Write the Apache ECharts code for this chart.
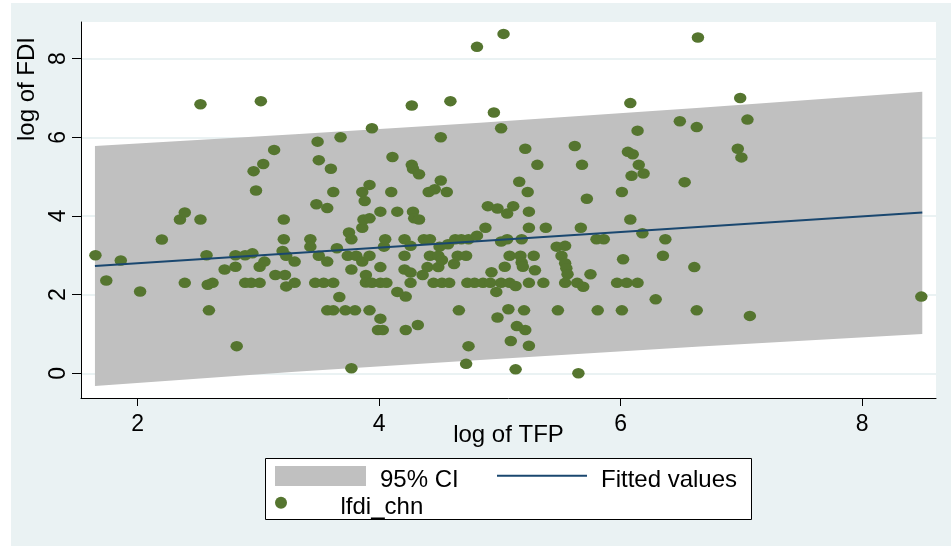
<!DOCTYPE html>
<html>
<head>
<meta charset="utf-8">
<script src="https://cdn.jsdelivr.net/npm/echarts@6/dist/echarts.min.js"></script>
<style>
html,body{margin:0;padding:0;background:#fff;}
#wrap{position:relative;width:951px;height:546px;background:#fff;overflow:hidden;}
#bg{position:absolute;left:11px;top:3px;right:0;bottom:0;background:#EAF2F3;}
#chart{position:absolute;left:0;top:0;width:951px;height:546px;}
</style>
</head>
<body>
<div id="wrap"><div id="bg"></div><div id="chart"></div></div>
<script>
// log of TFP (x) for each observation
const tfp = [
1.65,1.74,1.86,2.02,2.20,2.35,2.39,2.39,2.52,2.52,
2.57,2.58,2.62,2.59,2.72,2.81,2.81,2.82,2.89,2.89,
2.94,2.95,2.96,2.98,3.01,3.01,3.02,3.04,3.05,3.13,
3.14,3.20,3.21,3.21,3.22,3.23,3.23,3.30,3.30,3.43,
3.43,3.47,3.48,3.49,3.50,3.50,3.54,3.57,3.57,3.57,
3.60,3.62,3.62,3.62,3.65,3.67,3.68,3.72,3.74,3.75,
3.77,3.77,3.77,3.80,3.81,3.86,3.86,3.86,3.87,3.88,
3.89,3.89,3.92,3.92,3.92,3.92,3.94,3.94,4.01,4.01,
4.01,4.01,3.99,4.03,4.04,4.05,4.06,4.10,4.11,4.15,
4.15,4.21,4.21,4.21,4.22,4.22,4.26,4.26,4.26,4.27,
4.27,4.28,4.28,4.29,4.33,4.33,4.32,4.36,4.37,4.40,
4.41,4.42,4.42,4.45,4.46,4.49,4.49,4.50,4.51,4.51,
4.52,4.52,4.56,4.57,4.58,4.59,4.62,4.63,4.65,4.66,
4.68,4.72,4.72,4.73,4.74,4.74,4.79,4.81,4.81,4.86,
4.88,4.90,4.92,4.93,4.95,4.97,4.98,4.98,5.01,5.01,
5.01,5.03,5.04,5.06,5.06,5.07,5.08,5.08,5.09,5.11,
5.13,5.13,5.14,5.16,5.17,5.18,5.18,5.19,5.20,5.21,
5.21,5.23,5.24,5.24,5.24,5.24,5.28,5.29,5.31,5.36,
5.38,5.47,5.48,5.51,5.54,5.54,5.55,5.56,5.54,5.62,
5.64,5.65,5.67,5.68,5.69,5.72,5.75,5.80,5.81,5.86,
5.97,6.01,6.01,6.02,6.05,6.06,6.08,6.08,6.09,6.10,
6.14,6.14,6.15,6.18,6.19,6.29,6.35,6.37,6.49,6.53,
6.61,6.63,6.63,6.64,6.97,6.99,7.00,7.05,7.07,8.49
];
// log of FDI (lfdi_chn) for each observation
const fdi = [
3.00,2.36,2.87,2.08,3.40,3.91,4.09,2.30,6.84,3.91,
3.00,2.25,2.30,1.60,2.64,3.00,2.71,0.69,3.00,2.30,
2.30,3.05,5.14,4.65,2.71,2.30,6.92,5.32,2.84,5.68,
2.50,3.11,3.91,3.41,2.50,2.99,2.21,2.84,2.30,3.41,
3.22,2.30,4.30,5.89,5.42,2.99,2.30,2.84,1.60,4.20,
5.20,1.60,4.61,2.30,3.18,1.94,6.00,1.60,2.99,3.58,
3.41,0.13,2.64,1.60,2.99,3.70,2.84,4.61,3.91,4.38,
2.50,2.31,3.94,2.99,1.60,4.79,6.23,2.30,4.11,2.30,
2.70,1.39,1.10,1.10,3.22,3.41,2.30,4.61,5.50,4.11,
2.07,3.41,2.99,2.64,1.95,1.10,3.24,2.56,2.30,6.81,
5.30,5.20,4.11,3.94,3.91,5.06,1.23,2.50,3.41,2.70,
4.61,3.41,2.99,2.30,4.68,2.99,2.70,3.22,6.00,4.90,
2.88,2.30,4.61,3.28,2.30,6.92,2.78,3.41,2.99,1.60,
3.41,2.99,0.24,2.30,3.41,0.69,2.30,8.30,3.50,2.30,
3.70,4.25,2.30,2.57,6.63,2.07,4.19,1.42,6.23,3.35,
2.30,8.63,2.71,4.06,3.41,1.63,2.99,2.30,0.82,4.25,
2.22,0.10,1.20,4.87,2.99,3.41,2.82,2.71,1.60,1.10,
5.71,4.61,3.70,2.30,0.70,4.11,2.99,2.62,5.30,2.30,
3.70,3.22,1.60,2.99,3.24,2.80,2.67,2.52,2.30,5.78,
2.30,0.00,3.70,5.30,2.20,4.44,2.52,3.41,1.60,3.41,
2.30,4.61,1.60,2.90,2.30,5.63,6.87,3.91,5.02,5.57,
2.30,6.17,5.30,3.56,5.08,1.88,2.99,3.41,6.41,4.86,
2.70,6.26,1.60,8.54,5.71,7.00,5.49,6.45,1.46,1.95
];
// fitted regression line (end points)
const fitX = [1.646, 8.498];
const fitY = [2.73, 4.09];
// 95% confidence band
const ciX     = [1.646, 3.303, 4.835, 6.658, 8.498];
const ciUpper = [5.78, 6.08, 6.37, 6.75, 7.16];
const ciLower = [-0.32, 0.04, 0.34, 0.68, 1.00];
// tick labels
const xTicks = [2, 4, 6, 8];
const yTicks = [0, 2, 4, 6, 8];

const FONT = "'Liberation Sans', Arial, Helvetica, sans-serif";
const chart = echarts.init(document.getElementById('chart'), null, {renderer: 'canvas'});

const legendText = {
  fontSize: 24, lineHeight: 24, fontFamily: FONT, color: '#000',
  rich: {t: {fontSize: 24, lineHeight: 24, fontFamily: FONT, color: '#000', padding: [9, 0, 0, 9]}}
};
const legendFmt = function (name) { return '{t|' + name + '}'; };

const option = {
  backgroundColor: 'transparent',
  animation: false,
  grid: {
    left: 81, top: 22, width: 855, height: 376,
    show: true, backgroundColor: '#ffffff', borderWidth: 0
  },
  xAxis: {
    type: 'value', min: 1.5305, max: 8.6116,
    axisLine: {show: true, onZero: false, lineStyle: {color: '#000', width: 1}},
    axisTick: {show: true, length: 8, customValues: xTicks, lineStyle: {color: '#000', width: 1}},
    axisLabel: {customValues: xTicks, fontSize: 23, fontFamily: FONT, color: '#000', margin: 15},
    splitLine: {show: false},
    name: 'log of TFP', nameLocation: 'middle', nameGap: 25, nameMoveOverlap: false,
    nameTextStyle: {fontSize: 24, fontFamily: FONT, color: '#000'}
  },
  yAxis: {
    type: 'value', min: -0.628, max: 8.932,
    axisLine: {show: true, onZero: false, lineStyle: {color: '#000', width: 1}},
    axisTick: {show: true, length: 9, customValues: yTicks, lineStyle: {color: '#000', width: 1}},
    axisLabel: {customValues: yTicks, rotate: 90, fontSize: 23, fontFamily: FONT, color: '#000', margin: 11},
    splitLine: {show: true, lineStyle: {color: '#EAF2F3', width: 2}}
  },
  legend: [
    {
      data: [{name: '95% CI', icon: 'rect'}],
      left: 275, top: 459.5, padding: 0, itemWidth: 91, itemHeight: 20,
      selectedMode: false, formatter: legendFmt, textStyle: legendText
    },
    {
      data: [{name: 'Fitted values', icon: 'rect', itemStyle: {color: '#1A476F'}}],
      left: 497, top: 459.2, padding: 0, itemWidth: 90, itemHeight: 2,
      selectedMode: false, formatter: legendFmt, textStyle: legendText
    },
    {
      data: ['lfdi_chn'],
      left: 275, top: 486.2, padding: 0, itemWidth: 91, itemHeight: 12,
      selectedMode: false, formatter: legendFmt, textStyle: legendText
    }
  ],
  graphic: [
    {
      type: 'rect', z: 1,
      shape: {x: 265.5, y: 458.5, width: 486, height: 61},
      style: {fill: '#ffffff', stroke: '#000000', lineWidth: 1}
    },
    {
      type: 'text', x: 27, y: 89, rotation: Math.PI / 2,
      style: {
        text: 'log of FDI', font: '24px ' + FONT, fill: '#000',
        align: 'center', verticalAlign: 'middle',
        textAlign: 'center', textVerticalAlign: 'middle'
      }
    }
  ],
  series: [
    {
      name: '95% CI',
      type: 'custom',
      itemStyle: {color: '#C0C0C0'},
      encode: {x: 0, y: [1, 2]},
      data: ciX.map((x, i) => [x, ciUpper[i], ciLower[i]]),
      renderItem: function (params, api) {
        if (params.dataIndex !== 0) return null;
        const pts = [];
        for (let i = 0; i < ciX.length; i++) pts.push(api.coord([ciX[i], ciUpper[i]]));
        for (let i = ciX.length - 1; i >= 0; i--) pts.push(api.coord([ciX[i], ciLower[i]]));
        return {type: 'polygon', shape: {points: pts}, style: {fill: '#C0C0C0'}};
      }
    },
    {
      name: 'Fitted values',
      type: 'line',
      symbol: 'none',
      showSymbol: false,
      lineStyle: {color: '#1A476F', width: 2},
      itemStyle: {color: '#1A476F'},
      data: fitX.map((x, i) => [x, fitY[i]])
    },
    {
      name: 'lfdi_chn',
      type: 'scatter',
      symbol: 'circle',
      symbolSize: [12.5, 10.5],
      itemStyle: {color: '#55752F', opacity: 1},
      data: tfp.map((x, i) => [x, fdi[i]])
    }
  ]
};
chart.setOption(option);
</script>
</body>
</html>
